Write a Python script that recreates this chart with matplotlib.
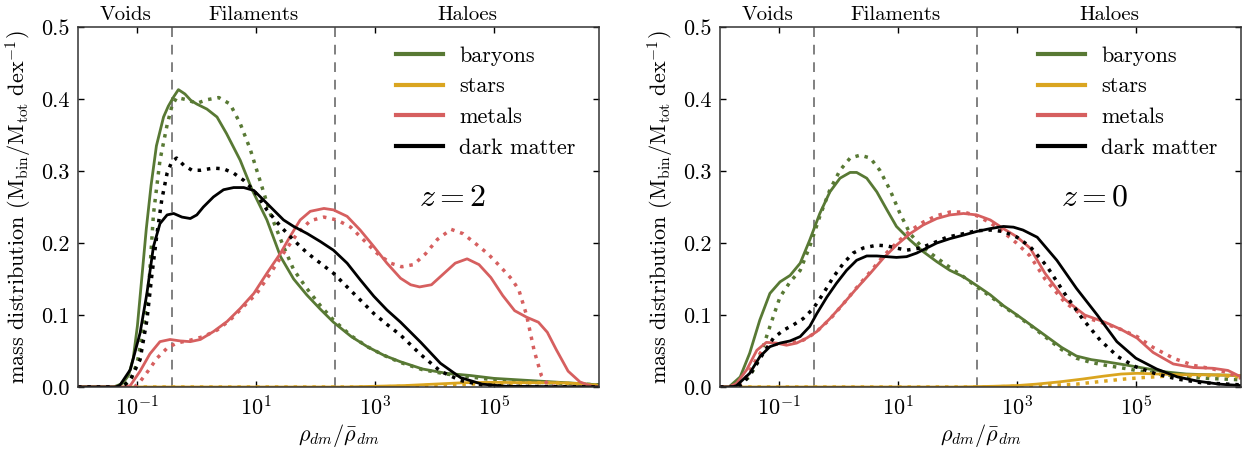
import numpy as np
import matplotlib
matplotlib.use("Agg")
import matplotlib.pyplot as plt
from matplotlib.ticker import FixedLocator, FormatStrFormatter, NullLocator

plt.rcParams['font.family'] = 'serif'
plt.rcParams['font.serif'] = ['cmr10', 'DejaVu Serif']
plt.rcParams['mathtext.fontset'] = 'cm'
plt.rcParams['axes.formatter.use_mathtext'] = True
plt.rcParams['axes.unicode_minus'] = True

# ---------------- data (x given as log10 of rho_dm / mean rho_dm) ----------------
# z = 2 panel
z2_bar_solid_lx = [-2.0, -1.4, -1.25, -1.15, -1.07, -1.0, -0.95, -0.85, -0.77, -0.68, -0.56, -0.48, -0.39, -0.31, -0.2, -0.1, 0.0, 0.17, 0.34, 0.5, 0.73, 0.93, 1.18, 1.41, 1.63, 1.85, 2.08, 2.3, 2.6, 2.87, 3.15, 3.43, 3.8, 4.2, 4.6, 5.0, 5.6, 6.2, 6.77]
z2_bar_solid_y = [0, 0, 0.005, 0.016, 0.04, 0.085, 0.13, 0.22, 0.28, 0.335, 0.375, 0.39, 0.403, 0.413, 0.407, 0.398, 0.393, 0.386, 0.375, 0.352, 0.315, 0.274, 0.232, 0.181, 0.15, 0.128, 0.108, 0.09, 0.07, 0.056, 0.044, 0.035, 0.025, 0.019, 0.016, 0.012, 0.009, 0.006, 0.003]
z2_bar_dot_lx = [-2.0, -1.35, -1.2, -1.1, -1.0, -0.9, -0.8, -0.73, -0.62, -0.5, -0.42, -0.34, -0.17, 0.0, 0.17, 0.37, 0.56, 0.73, 0.9, 1.07, 1.24, 1.46, 1.63, 1.85, 2.08, 2.3, 2.6, 2.87, 3.15, 3.43, 3.8, 4.2, 4.6, 5.0, 5.6, 6.2, 6.77]
z2_bar_dot_y = [0, 0, 0.004, 0.012, 0.035, 0.08, 0.15, 0.24, 0.315, 0.364, 0.39, 0.402, 0.399, 0.394, 0.399, 0.402, 0.393, 0.366, 0.33, 0.285, 0.24, 0.195, 0.163, 0.137, 0.113, 0.093, 0.071, 0.056, 0.044, 0.034, 0.024, 0.018, 0.014, 0.01, 0.007, 0.005, 0.003]
z2_star_solid_lx = [-2.0, 2.5, 3.0, 3.5, 4.0, 4.5, 5.0, 5.5, 6.0, 6.4, 6.77]
z2_star_solid_y = [0, 0, 0.001, 0.002, 0.004, 0.006, 0.0065, 0.006, 0.006, 0.005, 0.002]
z2_star_dot_lx = [-2.0, 3.0, 3.5, 4.2, 5.0, 5.8, 6.3, 6.77]
z2_star_dot_y = [0, 0, 0.001, 0.003, 0.005, 0.006, 0.005, 0.002]
z2_met_solid_lx = [-2.0, -1.2, -1.12, -0.955, -0.79, -0.62, -0.45, -0.28, -0.11, 0.06, 0.28, 0.51, 0.73, 0.96, 1.18, 1.41, 1.57, 1.74, 1.91, 2.14, 2.3, 2.53, 2.75, 2.98, 3.2, 3.43, 3.6, 3.75, 3.95, 4.15, 4.35, 4.55, 4.75, 4.95, 5.15, 5.35, 5.55, 5.75, 5.9, 6.05, 6.25, 6.45, 6.65, 6.77]
z2_met_solid_y = [0, 0, 0.002, 0.022, 0.046, 0.063, 0.066, 0.064, 0.063, 0.066, 0.077, 0.091, 0.109, 0.13, 0.158, 0.186, 0.209, 0.232, 0.244, 0.248, 0.246, 0.237, 0.218, 0.195, 0.172, 0.151, 0.142, 0.139, 0.142, 0.157, 0.172, 0.178, 0.17, 0.152, 0.127, 0.106, 0.097, 0.09, 0.076, 0.052, 0.022, 0.007, 0.001, 0]
z2_met_dot_lx = [-2.0, -1.05, -0.95, -0.84, -0.67, -0.5, -0.34, -0.11, 0.11, 0.34, 0.56, 0.79, 1.01, 1.24, 1.46, 1.69, 1.91, 2.14, 2.36, 2.59, 2.81, 3.03, 3.26, 3.45, 3.65, 3.85, 4.05, 4.28, 4.48, 4.68, 4.9, 5.1, 5.3, 5.42, 5.55, 5.68, 5.8, 5.92, 6.1, 6.77]
z2_met_dot_y = [0, 0, 0.008, 0.02, 0.04, 0.054, 0.061, 0.065, 0.07, 0.079, 0.093, 0.112, 0.13, 0.158, 0.186, 0.213, 0.231, 0.236, 0.232, 0.222, 0.204, 0.186, 0.172, 0.167, 0.17, 0.185, 0.205, 0.219, 0.213, 0.2, 0.185, 0.168, 0.15, 0.135, 0.1, 0.05, 0.016, 0.002, 0, 0]
z2_dm_solid_lx = [-2.0, -1.35, -1.29, -1.12, -0.955, -0.84, -0.73, -0.62, -0.5, -0.39, -0.25, -0.11, 0.0, 0.11, 0.28, 0.45, 0.62, 0.79, 0.96, 1.12, 1.29, 1.46, 1.63, 1.86, 2.08, 2.3, 2.53, 2.75, 2.98, 3.2, 3.43, 3.77, 4.1, 4.44, 4.8, 5.2, 6.77]
z2_dm_solid_y = [0, 0, 0.003, 0.024, 0.075, 0.13, 0.195, 0.227, 0.239, 0.241, 0.236, 0.234, 0.239, 0.25, 0.264, 0.274, 0.277, 0.277, 0.273, 0.26, 0.246, 0.232, 0.223, 0.213, 0.202, 0.19, 0.172, 0.149, 0.126, 0.107, 0.09, 0.062, 0.033, 0.013, 0.004, 0.001, 0]
z2_dm_dot_lx = [-2.0, -1.3, -1.2, -1.12, -0.955, -0.84, -0.76, -0.67, -0.59, -0.5, -0.42, -0.34, -0.22, -0.08, 0.06, 0.28, 0.45, 0.62, 0.79, 0.96, 1.18, 1.41, 1.63, 1.86, 2.08, 2.3, 2.53, 2.75, 2.98, 3.2, 3.43, 3.77, 4.1, 4.44, 4.8, 5.2, 6.77]
z2_dm_dot_y = [0, 0, 0.004, 0.01, 0.038, 0.093, 0.153, 0.213, 0.26, 0.297, 0.313, 0.318, 0.308, 0.301, 0.301, 0.304, 0.303, 0.297, 0.287, 0.273, 0.246, 0.223, 0.204, 0.186, 0.172, 0.158, 0.139, 0.121, 0.102, 0.087, 0.072, 0.045, 0.022, 0.009, 0.003, 0.001, 0]

# z = 0 panel
z0_bar_solid_lx = [-2.0, -1.85, -1.66, -1.5, -1.33, -1.16, -0.99, -0.82, -0.65, -0.49, -0.32, -0.15, 0.02, 0.19, 0.3, 0.47, 0.64, 0.81, 0.97, 1.2, 1.42, 1.65, 1.87, 2.1, 2.32, 2.55, 2.77, 3.0, 3.25, 3.5, 3.75, 4.0, 4.25, 4.5, 4.8, 5.15, 5.5, 5.85, 6.2, 6.77]
z0_bar_solid_y = [0, 0, 0.014, 0.047, 0.093, 0.13, 0.146, 0.155, 0.172, 0.204, 0.241, 0.271, 0.29, 0.298, 0.298, 0.29, 0.271, 0.246, 0.223, 0.204, 0.188, 0.174, 0.162, 0.153, 0.141, 0.128, 0.113, 0.1, 0.085, 0.07, 0.055, 0.043, 0.038, 0.035, 0.031, 0.026, 0.021, 0.018, 0.017, 0.016]
z0_bar_dot_lx = [-2.0, -1.75, -1.5, -1.33, -1.16, -0.99, -0.82, -0.65, -0.49, -0.32, -0.15, 0.02, 0.19, 0.36, 0.53, 0.69, 0.86, 1.03, 1.2, 1.37, 1.59, 1.82, 2.1, 2.32, 2.55, 2.77, 3.0, 3.25, 3.5, 3.75, 4.0, 4.25, 4.5, 4.8, 5.15, 5.5, 5.85, 6.2, 6.77]
z0_bar_dot_y = [0, 0, 0.014, 0.042, 0.084, 0.125, 0.146, 0.162, 0.195, 0.237, 0.274, 0.301, 0.318, 0.322, 0.318, 0.301, 0.274, 0.241, 0.213, 0.197, 0.183, 0.169, 0.153, 0.139, 0.126, 0.112, 0.099, 0.084, 0.068, 0.052, 0.04, 0.034, 0.03, 0.026, 0.021, 0.017, 0.014, 0.012, 0.01]
z0_star_solid_lx = [-2.0, 2.0, 2.6, 3.0, 3.33, 3.7, 4.1, 4.45, 4.75, 5.02, 5.4, 5.8, 6.2, 6.77]
z0_star_solid_y = [0, 0, 0.001, 0.002, 0.004, 0.007, 0.011, 0.015, 0.018, 0.019, 0.018, 0.017, 0.017, 0.016]
z0_star_dot_lx = [-2.0, 2.5, 3.0, 3.5, 4.0, 4.45, 4.8, 5.1, 5.5, 6.0, 6.4, 6.77]
z0_star_dot_y = [0, 0, 0.001, 0.002, 0.004, 0.008, 0.011, 0.013, 0.015, 0.016, 0.016, 0.014]
z0_met_solid_lx = [-2.0, -1.85, -1.72, -1.55, -1.38, -1.22, -1.05, -0.88, -0.71, -0.54, -0.37, -0.15, 0.08, 0.3, 0.53, 0.75, 0.97, 1.2, 1.42, 1.65, 1.87, 2.1, 2.32, 2.55, 2.77, 2.99, 3.22, 3.47, 3.8, 4.14, 4.48, 4.75, 5.02, 5.29, 5.63, 5.97, 6.3, 6.55, 6.77]
z0_met_solid_y = [0, 0, 0.005, 0.024, 0.051, 0.062, 0.061, 0.058, 0.061, 0.068, 0.077, 0.095, 0.116, 0.137, 0.158, 0.179, 0.197, 0.213, 0.225, 0.234, 0.239, 0.241, 0.239, 0.232, 0.22, 0.209, 0.193, 0.158, 0.122, 0.1, 0.09, 0.08, 0.068, 0.048, 0.032, 0.027, 0.026, 0.023, 0.014]
z0_met_dot_lx = [-2.0, -1.75, -1.6, -1.45, -1.3, -1.15, -1.0, -0.8, -0.6, -0.4, -0.15, 0.08, 0.3, 0.53, 0.75, 0.97, 1.2, 1.42, 1.65, 1.87, 2.1, 2.32, 2.55, 2.77, 2.99, 3.22, 3.47, 3.8, 4.14, 4.48, 4.75, 5.02, 5.29, 5.63, 5.97, 6.3, 6.55, 6.77]
z0_met_dot_y = [0, 0, 0.008, 0.03, 0.05, 0.058, 0.06, 0.061, 0.065, 0.075, 0.094, 0.116, 0.138, 0.16, 0.182, 0.2, 0.217, 0.229, 0.238, 0.243, 0.243, 0.238, 0.228, 0.215, 0.2, 0.182, 0.15, 0.118, 0.097, 0.088, 0.08, 0.07, 0.055, 0.04, 0.03, 0.025, 0.02, 0.012]
z0_dm_solid_lx = [-2.0, -1.8, -1.72, -1.5, -1.33, -1.16, -0.99, -0.82, -0.65, -0.49, -0.37, -0.2, -0.04, 0.13, 0.3, 0.47, 0.64, 0.81, 0.97, 1.14, 1.31, 1.48, 1.65, 1.87, 2.1, 2.32, 2.55, 2.77, 2.94, 3.1, 3.34, 3.67, 4.0, 4.35, 4.68, 5.0, 5.35, 5.7, 6.05, 6.4, 6.77]
z0_dm_solid_y = [0, 0, 0.002, 0.019, 0.042, 0.056, 0.061, 0.064, 0.07, 0.084, 0.102, 0.125, 0.144, 0.162, 0.176, 0.182, 0.182, 0.181, 0.18, 0.181, 0.186, 0.193, 0.2, 0.206, 0.211, 0.216, 0.22, 0.223, 0.222, 0.218, 0.208, 0.176, 0.137, 0.1, 0.063, 0.04, 0.025, 0.014, 0.008, 0.004, 0.002]
z0_dm_dot_lx = [-2.0, -1.7, -1.61, -1.44, -1.27, -1.1, -0.93, -0.77, -0.6, -0.43, -0.26, -0.09, 0.08, 0.24, 0.41, 0.64, 0.81, 0.97, 1.14, 1.37, 1.59, 1.82, 2.1, 2.32, 2.55, 2.77, 3.0, 3.22, 3.5, 3.8, 4.1, 4.4, 4.7, 5.0, 5.35, 5.7, 6.1, 6.77]
z0_dm_dot_y = [0, 0, 0.005, 0.024, 0.047, 0.068, 0.079, 0.086, 0.095, 0.109, 0.13, 0.153, 0.172, 0.186, 0.193, 0.197, 0.196, 0.193, 0.19, 0.193, 0.2, 0.208, 0.213, 0.217, 0.218, 0.216, 0.208, 0.195, 0.168, 0.13, 0.095, 0.065, 0.042, 0.028, 0.018, 0.011, 0.006, 0.003]

labels = ['baryons', 'stars', 'metals', 'dark matter']
colors = ['#587934', '#daa520', '#d65f5f', 'black']
region_names = ['Voids', 'Filaments', 'Haloes']
region_bounds_lx = [-2.0, -0.41, 2.33, 6.77]
panel_titles = [r'$z=2$', r'$z=0$']
yticks = [0.0, 0.1, 0.2, 0.3, 0.4, 0.5]
xticks = [1e-1, 1e1, 1e3, 1e5]

panels = [
    [(z2_bar_solid_lx, z2_bar_solid_y, z2_bar_dot_lx, z2_bar_dot_y),
     (z2_star_solid_lx, z2_star_solid_y, z2_star_dot_lx, z2_star_dot_y),
     (z2_met_solid_lx, z2_met_solid_y, z2_met_dot_lx, z2_met_dot_y),
     (z2_dm_solid_lx, z2_dm_solid_y, z2_dm_dot_lx, z2_dm_dot_y)],
    [(z0_bar_solid_lx, z0_bar_solid_y, z0_bar_dot_lx, z0_bar_dot_y),
     (z0_star_solid_lx, z0_star_solid_y, z0_star_dot_lx, z0_star_dot_y),
     (z0_met_solid_lx, z0_met_solid_y, z0_met_dot_lx, z0_met_dot_y),
     (z0_dm_solid_lx, z0_dm_solid_y, z0_dm_dot_lx, z0_dm_dot_y)],
]

fig = plt.figure(figsize=(12.49, 4.51), dpi=100)
W, H = 1249, 451
ax_lefts = [78, 720]
for pi, left in enumerate(ax_lefts):
    ax = fig.add_axes([left / W, (H - 387) / H, 521 / W, 360 / H])
    for (slx, sy, dlx, dy), lab, col in zip(panels[pi], labels, colors):
        ax.plot(10 ** np.array(slx), sy, color=col, lw=2.0, label=lab)
        ax.plot(10 ** np.array(dlx), dy, color=col, lw=2.5, ls=(0, (1, 1.7)))
    for b in region_bounds_lx[1:3]:
        ax.axvline(10 ** b, color='0.5', lw=1.4, ls=(0, (5, 4)), zorder=0)
    ax.set_xscale('log')
    ax.set_xlim(10 ** region_bounds_lx[0], 10 ** region_bounds_lx[-1])
    ax.set_ylim(0, 0.5)
    ax.xaxis.set_major_locator(FixedLocator(xticks))
    ax.xaxis.set_minor_locator(NullLocator())
    ax.yaxis.set_major_locator(FixedLocator(yticks))
    ax.yaxis.set_major_formatter(FormatStrFormatter('%.1f'))
    ax.tick_params(direction='in', top=True, right=True, length=4.5, width=1,
                   labelsize=16, pad=6)
    for s in ax.spines.values():
        s.set_linewidth(1.1)
        s.set_color('0.2')
    ax.set_xlabel(r'$\rho_{dm}/\bar{\rho}_{dm}$', fontsize=16, labelpad=2)
    ax.set_ylabel(r'mass distribution $(\mathrm{M_{bin}/M_{tot}\ dex^{-1}})$', fontsize=16, labelpad=5)
    for name, a, b in zip(region_names, region_bounds_lx[:-1], region_bounds_lx[1:]):
        ax.text(10 ** ((a + b) / 2), 1.0 + 0.008, name, transform=ax.get_xaxis_transform(),
                ha='center', va='bottom', fontsize=15)
    ax.text(0.72, 0.525, panel_titles[pi], transform=ax.transAxes, fontsize=23,
            ha='center', va='center')
    leg = ax.legend(loc='upper right', frameon=False, fontsize=16, handlelength=2.1,
                    handletextpad=0.75, labelspacing=0.5, borderaxespad=0.3,
                    bbox_to_anchor=(0.985, 0.99))
    for h in leg.get_lines():
        h.set_linewidth(3)

fig.savefig('out.png', dpi=100)
